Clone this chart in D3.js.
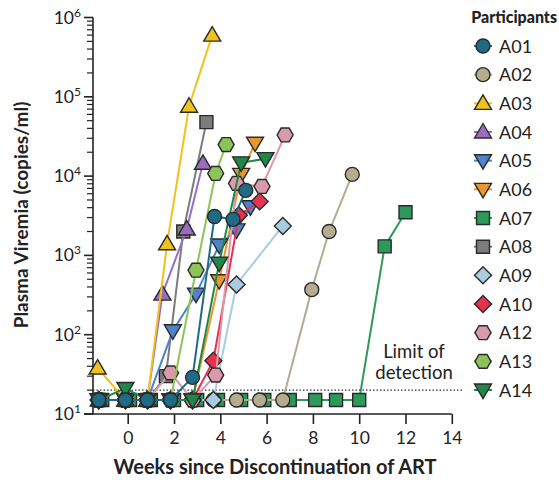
<!DOCTYPE html>
<html><head><meta charset="utf-8">
<script src="https://cdn.jsdelivr.net/npm/d3@7"></script>
<style>
body{margin:0;background:#fff;}
text{font-family:Lato,"Open Sans",sans-serif;fill:#222;}
</style></head>
<body><svg id="c" width="559" height="480"></svg>
<script>
// ---- DATA ----
const participants = ["A01","A02","A03","A04","A05","A06","A07","A08","A09","A10","A12","A13","A14"];
const colors = ["#1f6b86","#b3ac8e","#f0c21c","#9b6dc1","#4f82c9","#e8972f","#2b9a5a","#7c7c7c","#a9cde0","#e6314f","#d99aab","#8cc45a","#1f8747"];
const shapes = ["circle","circle","triUp","triUp","triDown","triDown","square","square","diamond","diamond","hexagon","hexagon","triDown"];

const weeksA01 = [-1.25,-0.1,0.85,1.85,2.8,3.75,4.55,5.1];
const viremiaA01 = [15,15,15,15,29,3100,2850,6600];
const weeksA02 = [-1.25,-0.1,0.85,1.85,2.8,3.7,4.7,5.7,6.7,7.95,8.7,9.7];
const viremiaA02 = [15,15,15,15,15,15,15,15,15,370,2000,10500];
const weeksA03 = [-1.3,-0.1,0.85,1.7,2.65,3.65];
const viremiaA03 = [38,15,15,1400,76000,600000];
const weeksA04 = [-1.25,-0.1,0.85,1.5,2.55,3.25];
const viremiaA04 = [15,15,15,325,2150,14500];
const weeksA05 = [-1.25,-0.1,0.85,1.95,2.95,3.95,4.7,5.3];
const viremiaA05 = [15,15,15,112,325,1350,2100,4100];
const weeksA06 = [-1.25,-0.1,0.85,1.85,2.8,3.95,4.9,5.5];
const viremiaA06 = [15,15,15,15,15,480,10500,26000];
const weeksA07 = [-1.1,0.1,1.0,2.0,3.0,3.9,4.9,5.9,7.0,8.1,9.0,10.0,11.1,12.0];
const viremiaA07 = [15,15,15,15,15,15,15,15,15,15,15,15,1300,3500];
const weeksA08 = [-1.25,-0.1,0.85,1.65,2.4,3.4];
const viremiaA08 = [15,15,15,30,2000,48000];
const weeksA09 = [-1.25,-0.1,0.85,1.85,2.8,3.7,4.7,6.7];
const viremiaA09 = [15,15,15,15,15,15,430,2350];
const weeksA10 = [-1.25,-0.1,0.85,1.85,2.8,3.7,4.8,5.7];
const viremiaA10 = [15,15,15,15,15,47,3200,4800];
const weeksA12 = [-1.25,-0.1,0.85,1.85,2.8,3.8,4.7,5.8,6.8];
const viremiaA12 = [15,15,15,33,15,31,8100,7400,33000];
const weeksA13 = [-1.25,-0.1,0.85,1.85,2.95,3.8,4.25];
const viremiaA13 = [15,15,15,15,650,10800,25000];
const weeksA14 = [-1.25,-0.1,0.85,1.85,2.8,3.95,4.9,5.95];
const viremiaA14 = [15,21,15,15,15,800,14700,16600];

const xTicks = [0,2,4,6,8,10,12,14];
const yTickExponents = [1,2,3,4,5,6];
const limitOfDetection = 20;

const weeksList = [weeksA01,weeksA02,weeksA03,weeksA04,weeksA05,weeksA06,weeksA07,weeksA08,weeksA09,weeksA10,weeksA12,weeksA13,weeksA14];
const viremiaList = [viremiaA01,viremiaA02,viremiaA03,viremiaA04,viremiaA05,viremiaA06,viremiaA07,viremiaA08,viremiaA09,viremiaA10,viremiaA12,viremiaA13,viremiaA14];

// ---- CHART ----
const svg = d3.select("#c");
const x = d3.scaleLinear().domain([-1.5,14]).range([93,451.8]);
const y = d3.scaleLog().domain([10,1e6]).range([414,17.5]);

function shapePath(s){
  switch(s){
    case "circle": return d3.symbol(d3.symbolCircle, Math.PI*7*7)();
    case "square": return "M-6.5,-6.5H6.5V6.5H-6.5Z";
    case "diamond": return "M0,-8.5L8.5,0L0,8.5L-8.5,0Z";
    case "triUp": return "M0,-8.5L8.5,6L-8.5,6Z";
    case "triDown": return "M0,8.5L8.5,-6L-8.5,-6Z";
    case "hexagon": {
      const r=8, h=r*0.866;
      return `M${r},0L${r/2},${h}L${-r/2},${h}L${-r},0L${-r/2},${-h}L${r/2},${-h}Z`;
    }
  }
}

// axes
const yAxis = svg.append("g");
yAxis.append("line").attr("x1",93).attr("x2",93).attr("y1",y(1e6)).attr("y2",y(10)).attr("stroke","#222").attr("stroke-width",1.6);
for(let e=1;e<6;e++){
  for(let k=2;k<=9;k++){
    const v=k*Math.pow(10,e);
    yAxis.append("line").attr("x1",87).attr("x2",93).attr("y1",y(v)).attr("y2",y(v)).attr("stroke","#222").attr("stroke-width",1.2);
  }
}
yTickExponents.forEach(e=>{
  const v=Math.pow(10,e);
  yAxis.append("line").attr("x1",84).attr("x2",93).attr("y1",y(v)).attr("y2",y(v)).attr("stroke","#222").attr("stroke-width",1.6);
  const t=yAxis.append("text").attr("x",81).attr("y",y(v)+6).attr("text-anchor","end").style("font-size","17.5px");
  t.append("tspan").text("10");
  t.append("tspan").attr("dy",-7).style("font-size","12px").text(e);
});

const xAxis = svg.append("g").attr("transform","translate(0,414)")
  .call(d3.axisBottom(x).tickValues(xTicks).tickSize(10).tickPadding(8).tickFormat(d3.format("d")));
xAxis.select(".domain").remove();
xAxis.append("line").attr("x1",84).attr("x2",x(14)).attr("y1",0).attr("y2",0).attr("stroke","#222").attr("stroke-width",1.6);
xAxis.selectAll(".tick line").attr("stroke","#222").attr("stroke-width",1.6);
xAxis.selectAll(".tick text").style("font-size","17.5px").style("font-family","Lato").attr("fill","#222");

// limit of detection
svg.append("line").attr("x1",93).attr("x2",462).attr("y1",y(limitOfDetection)).attr("y2",y(limitOfDetection))
  .attr("stroke","#333").attr("stroke-width",1.2).attr("stroke-dasharray","1.5,2");
svg.append("text").attr("x",414).attr("y",358).attr("text-anchor","middle").style("font-size","18.5px").text("Limit of");
svg.append("text").attr("x",414).attr("y",379).attr("text-anchor","middle").style("font-size","18.5px").text("detection");

// series
const order = [6,1,7,8,5,4,3,2,9,10,11,12,0];
const line = d3.line().x(d=>x(d[0])).y(d=>y(d[1]));
order.forEach(i=>{
  const pts = weeksList[i].map((w,j)=>[w,viremiaList[i][j]]);
  const g = svg.append("g");
  g.append("path").attr("d",line(pts)).attr("fill","none").attr("stroke",colors[i]).attr("stroke-width",2);
  g.selectAll("path.m").data(pts).join("path").attr("class","m")
    .attr("transform",d=>`translate(${x(d[0])},${y(d[1])})`)
    .attr("d",shapePath(shapes[i])).attr("fill",colors[i]).attr("stroke","#2a2a2a").attr("stroke-width",1.4);
});

// legend
svg.append("text").attr("x",557).attr("y",23).attr("text-anchor","end").style("font-size","16px").style("font-weight","900").text("Participants");
const lg = svg.append("g");
participants.forEach((p,i)=>{
  const cy = 46 + i*28.67;
  lg.append("line").attr("x1",474).attr("x2",492).attr("y1",cy).attr("y2",cy).attr("stroke",colors[i]).attr("stroke-width",2);
  lg.append("path").attr("transform",`translate(483,${cy})`).attr("d",shapePath(shapes[i])).attr("fill",colors[i]).attr("stroke","#2a2a2a").attr("stroke-width",1.4);
  lg.append("text").attr("x",499).attr("y",cy+6.5).style("font-size","18px").text(p);
});

// axis titles
svg.append("text").attr("transform","translate(28,215) rotate(-90)").attr("text-anchor","middle")
  .style("font-size","19px").style("font-weight","bold").text("Plasma Viremia (copies/ml)");
svg.append("text").attr("x",275).attr("y",474).attr("text-anchor","middle")
  .style("font-size","20px").style("font-weight","bold").text("Weeks since Discontinuation of ART");
</script></body></html>
